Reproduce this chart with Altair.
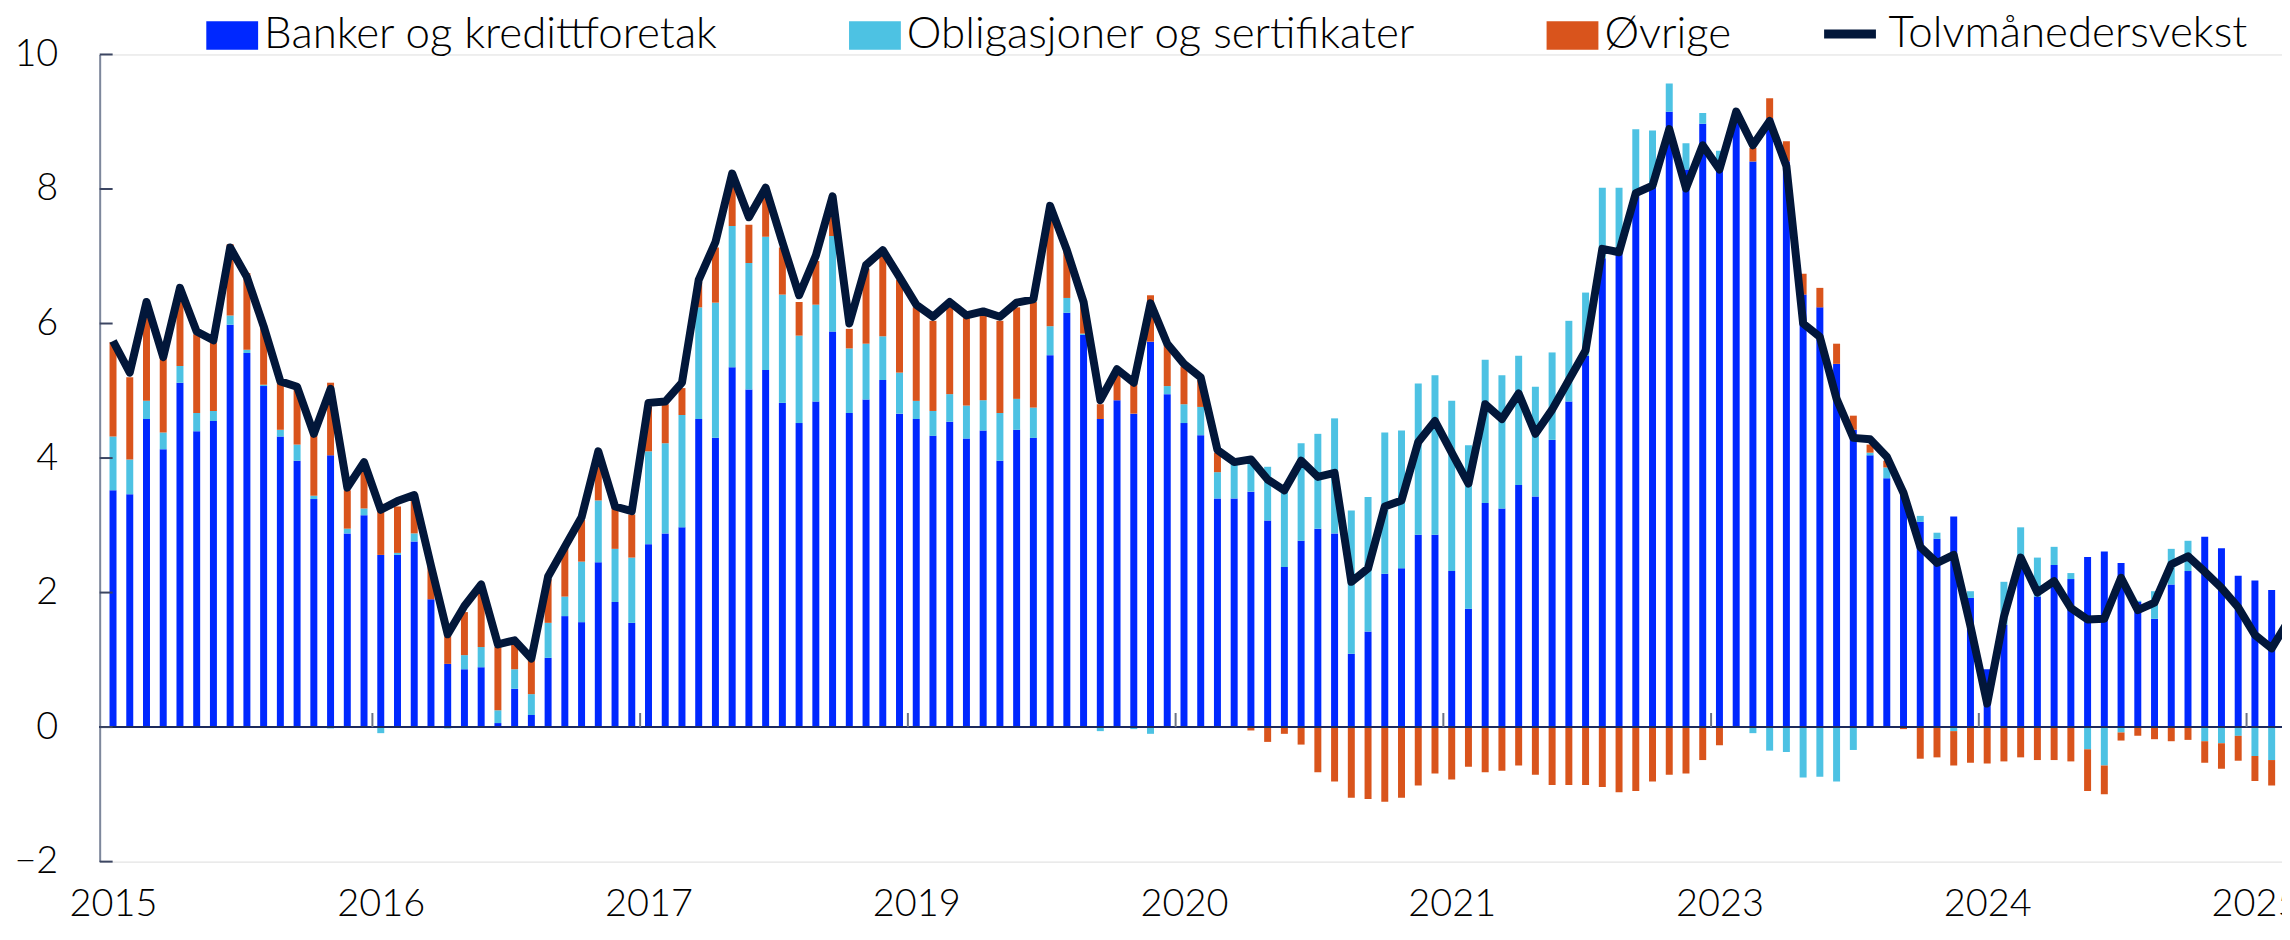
import altair as alt
import pandas as pd

# ---------------- data ----------------
serier = ["Banker og kredittforetak", "Obligasjoner og sertifikater", "Øvrige"]
farger = ["#0028ff", "#4dc2e3", "#d9541c"]
linjeserie = ["Tolvmånedersvekst"]
linjefarge = ["#02173a"]

maaneder = pd.date_range("2015-01-01", periods=131, freq="MS").strftime("%Y-%m").tolist()

banker = [
    3.52, 3.46, 4.58, 4.13, 5.12, 4.40, 4.55, 5.98, 5.56, 5.07,
    4.32, 3.96, 3.39, 4.04, 2.88, 3.15, 2.56, 2.56, 2.76, 1.90,
    0.94, 0.86, 0.89, 0.06, 0.57, 0.18, 1.03, 1.65, 1.56, 2.45,
    1.86, 1.55, 2.72, 2.88, 2.97, 4.58, 4.30, 5.35, 5.02, 5.31,
    4.82, 4.52, 4.84, 5.88, 4.67, 4.87, 5.16, 4.66, 4.58, 4.33,
    4.54, 4.29, 4.41, 3.96, 4.42, 4.30, 5.53, 6.16, 5.83, 4.58,
    4.86, 4.66, 5.73, 4.95, 4.52, 4.34, 3.40, 3.40, 3.50, 3.07,
    2.38, 2.77, 2.95, 2.88, 1.09, 1.42, 2.28, 2.36, 2.86, 2.86,
    2.32, 1.76, 3.33, 3.25, 3.60, 3.43, 4.27, 4.84, 5.52, 6.97,
    7.05, 7.93, 8.09, 9.15, 8.29, 8.97, 8.41, 9.01, 8.41, 9.05,
    8.41, 6.43, 6.24, 5.40, 4.42, 4.04, 3.70, 3.48, 3.05, 2.80,
    3.13, 1.92, 0.86, 1.52, 2.35, 1.94, 2.41, 2.20, 2.53, 2.61,
    2.44, 1.86, 1.61, 2.12, 2.32, 2.83, 2.66, 2.25, 2.18, 2.04,
]
obligasjoner = [
    0.80, 0.52, 0.27, 0.25, 0.25, 0.27, 0.15, 0.14, 0.05, 0.02,
    0.10, 0.24, 0.05, -0.02, 0.07, 0.10, -0.09, 0.03, 0.12, 0.00,
    -0.02, 0.21, 0.30, 0.19, 0.29, 0.31, 0.52, 0.29, 0.90, 0.92,
    0.79, 0.97, 1.38, 1.34, 1.67, 1.66, 2.01, 2.10, 1.88, 1.98,
    1.61, 1.30, 1.44, 1.42, 0.96, 0.83, 0.65, 0.61, 0.27, 0.37,
    0.41, 0.49, 0.45, 0.71, 0.46, 0.45, 0.43, 0.22, 0.02, -0.06,
    -0.01, -0.03, -0.10, 0.12, 0.28, 0.42, 0.39, 0.52, 0.50, 0.80,
    1.14, 1.45, 1.41, 1.71, 2.13, 2.00, 2.10, 2.05, 2.25, 2.37,
    2.53, 2.43, 2.13, 1.98, 1.92, 1.63, 1.30, 1.20, 0.94, 1.05,
    0.97, 0.96, 0.78, 0.42, 0.39, 0.16, 0.16, 0.00, -0.09, -0.35,
    -0.37, -0.75, -0.74, -0.81, -0.34, 0.04, 0.16, 0.00, 0.09, 0.09,
    -0.06, 0.10, 0.00, 0.64, 0.62, 0.58, 0.27, 0.09, -0.33, -0.57,
    -0.08, 0.02, 0.41, 0.53, 0.45, -0.21, -0.24, -0.13, -0.43, -0.49,
]
ovrige = [
    1.40, 1.22, 1.47, 1.14, 1.12, 1.17, 1.02, 1.06, 1.14, 0.87,
    0.70, 0.84, 0.96, 1.08, 0.57, 0.59, 0.76, 0.69, 0.48, 0.50,
    0.41, 0.64, 0.80, 0.94, 0.37, 0.50, 0.65, 0.74, 0.62, 0.55,
    0.63, 0.64, 0.70, 0.58, 0.40, 0.37, 0.82, 0.64, 0.57, 0.64,
    0.70, 0.50, 0.65, 0.47, 0.29, 1.11, 1.24, 1.38, 1.39, 1.34,
    1.33, 1.30, 1.26, 1.37, 1.36, 1.57, 1.65, 0.71, 0.49, 0.22,
    0.42, 0.46, 0.69, 0.61, 0.56, 0.40, 0.29, 0.00, -0.05, -0.22,
    -0.10, -0.26, -0.67, -0.81, -1.05, -1.07, -1.11, -1.05, -0.87, -0.69,
    -0.78, -0.59, -0.67, -0.65, -0.57, -0.71, -0.86, -0.86, -0.86, -0.89,
    -0.97, -0.95, -0.81, -0.71, -0.69, -0.49, -0.27, 0.00, 0.20, 0.30,
    0.30, 0.31, 0.29, 0.30, 0.21, 0.12, 0.10, -0.03, -0.47, -0.45,
    -0.51, -0.53, -0.54, -0.51, -0.45, -0.49, -0.49, -0.51, -0.62, -0.43,
    -0.12, -0.13, -0.18, -0.21, -0.19, -0.32, -0.38, -0.37, -0.37, -0.38,
]
tolvmaaneder = [
    5.74, 5.27, 6.32, 5.50, 6.53, 5.88, 5.75, 7.13, 6.69, 5.96,
    5.14, 5.06, 4.36, 5.03, 3.56, 3.94, 3.23, 3.36, 3.45, 2.40,
    1.38, 1.80, 2.12, 1.23, 1.29, 1.02, 2.24, 2.68, 3.12, 4.10,
    3.28, 3.21, 4.82, 4.84, 5.12, 6.65, 7.21, 8.23, 7.58, 8.02,
    7.21, 6.42, 7.01, 7.89, 6.00, 6.87, 7.09, 6.69, 6.28, 6.10,
    6.32, 6.12, 6.18, 6.10, 6.31, 6.36, 7.75, 7.09, 6.32, 4.86,
    5.32, 5.12, 6.30, 5.70, 5.40, 5.20, 4.12, 3.94, 3.98, 3.68,
    3.52, 3.96, 3.72, 3.78, 2.16, 2.36, 3.28, 3.37, 4.24, 4.55,
    4.08, 3.62, 4.80, 4.58, 4.96, 4.36, 4.72, 5.16, 5.60, 7.11,
    7.06, 7.94, 8.05, 8.89, 8.01, 8.65, 8.29, 9.15, 8.65, 9.01,
    8.34, 6.00, 5.80, 4.88, 4.30, 4.28, 4.02, 3.48, 2.68, 2.44,
    2.56, 1.50, 0.35, 1.64, 2.52, 2.00, 2.17, 1.77, 1.60, 1.61,
    2.22, 1.74, 1.85, 2.42, 2.54, 2.31, 2.07, 1.78, 1.37, 1.17,
    1.58,
]

aksetekster = ["2015", "2016", "2017", "2019", "2020", "2021", "2023", "2024", "2025"]
tekstavstand = 16          # one year label every 16 months
y_verdier = [-2, 0, 2, 4, 6, 8, 10]

# ---------------- tables ----------------
rader = []
for i in range(len(banker)):
    for rekkefolge, (navn, liste) in enumerate(zip(serier, [banker, obligasjoner, ovrige])):
        rader.append({"idx": i, "maaned": maaneder[i], "serie": navn,
                      "verdi": liste[i], "rekkefolge": rekkefolge})
stolper_df = pd.DataFrame(rader)
linje_df = pd.DataFrame({"idx": list(range(len(tolvmaaneder))),
                         "maaned": maaneder[:len(tolvmaaneder)],
                         "linje": linjeserie[0], "verdi": tolvmaaneder})
tekst_idx = [k * tekstavstand for k in range(len(aksetekster))]
strek_df = pd.DataFrame({"grense": [k * tekstavstand - 0.5 for k in range(1, len(aksetekster))]})
ytick_df = pd.DataFrame({"v": y_verdier})

label_expr = "[" + ",".join("'%s'" % t for t in aksetekster) + "][round(datum.value/%d)]" % tekstavstand

FONT = "Lato"
LEGEND_FS = 44
x_scale = alt.Scale(domain=[-0.5, 129.32], nice=False, zero=False)
y_scale = alt.Scale(domain=[-2, 10], nice=False, zero=False)

farge = alt.Color(
    "serie:N",
    scale=alt.Scale(domain=serier, range=farger),
    legend=alt.Legend(
        title=None, orient="none", direction="horizontal",
        legendX=107, legendY=-45,
        labelFont=FONT, labelFontSize=LEGEND_FS, labelFontWeight=300, labelColor="#000000",
        labelOffset=6, labelLimit=1000, columnPadding=131,
        symbolSize=2704, symbolType="M-1,-0.55H1V0.55H-1Z",
        symbolStrokeWidth=0, symbolOpacity=1,
    ),
)

linjefarge_enc = alt.Stroke(
    "linje:N",
    scale=alt.Scale(domain=linjeserie, range=linjefarge),
    legend=alt.Legend(
        title=None, orient="none", direction="horizontal",
        legendX=1726, legendY=-51,
        labelFont=FONT, labelFontSize=LEGEND_FS, labelFontWeight=300, labelColor="#000000",
        labelOffset=8, labelLimit=1000,
        symbolSize=2704, symbolType="stroke", symbolStrokeWidth=9, symbolOpacity=1,
    ),
)

x_akse = alt.Axis(
    values=tekst_idx, labelExpr=label_expr, title=None, grid=False,
    domain=False, ticks=False, labelFont=FONT, labelFontSize=38, labelFontWeight=300,
    labelColor="#000000", labelPadding=24, labelFlush=False, labelOverlap=False,
)
y_akse = alt.Axis(
    values=y_verdier, format="d", title=None, grid=False, ticks=False,
    domain=True, domainColor="#7d879c", domainWidth=2,
    labelFont=FONT, labelFontSize=38, labelFontWeight=300, labelColor="#000000",
    labelPadding=42,
)

stolper = alt.Chart(stolper_df).mark_bar(width=7, clip=True).encode(
    x=alt.X("idx:Q", scale=x_scale, axis=x_akse),
    y=alt.Y("verdi:Q", stack="zero", scale=y_scale, axis=y_akse),
    color=farge,
    order=alt.Order("rekkefolge:Q"),
)

nullinje = alt.Chart(ytick_df).mark_rule(color="#1d2b5c", strokeWidth=1.5).encode(
    y=alt.datum(0)
)

x_streker = alt.Chart(strek_df).mark_rule(color="#6b7385", strokeWidth=2).encode(
    x=alt.X("grense:Q", scale=x_scale),
    y=alt.datum(0),
    y2=alt.datum(0.21),
)

y_streker = alt.Chart(ytick_df).mark_rule(color="#3c4662", strokeWidth=2).encode(
    y=alt.Y("v:Q", scale=y_scale),
    x=alt.value(0),
    x2=alt.value(13),
)

linje = alt.Chart(linje_df).mark_line(strokeWidth=8, strokeJoin="round", clip=True).encode(
    x=alt.X("idx:Q", scale=x_scale),
    y=alt.Y("verdi:Q", scale=y_scale),
    stroke=linjefarge_enc,
    order="idx:Q",
)

chart = alt.layer(stolper, nullinje, x_streker, y_streker, linje).properties(
    width=2190,
    height=810,
    autosize=alt.AutoSizeParams(type="none"),
    padding={"left": 92, "top": 45, "right": 0, "bottom": 70},
).configure_view(stroke=None).configure(font=FONT)

chart.save("out.html", embed_options={"renderer": "svg", "actions": False})
